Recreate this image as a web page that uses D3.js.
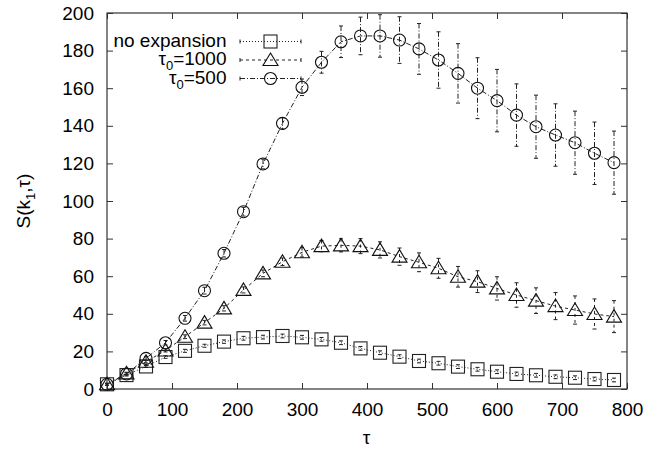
<!DOCTYPE html>
<html><head><meta charset="utf-8">
<script src="https://cdn.jsdelivr.net/npm/d3@7"></script>
<style>body{margin:0;background:#fff}svg{display:block}text{font-family:"Liberation Sans",Arial,sans-serif}</style>
</head><body><svg id="c" width="669" height="449"></svg>
<script>
const taus = [0,30,60,90,120,150,180,210,240,270,300,330,360,390,420,450,480,510,540,570,600,630,660,690,720,750,780];
const noExp = [2.5,7.4,12,17,20.3,23,25.2,27,27.6,28.2,27.5,26.4,24.6,21.6,19.3,17.2,14.9,13.7,11.9,10.5,9.2,8,7.3,6.5,6,5.3,4.8];
const noExpErr = [0.5,0.5,0.5,0.7,0.8,0.8,0.9,1,1,1,1,1,1,1,1,1,1,1,1,1,1,1,1,1,1,1,1];
const t1000 = [2.5,8.3,14.5,20.5,27.8,35.3,42.9,52.7,61.5,67.7,72.7,76,76.4,76,74,70.4,67.4,64.2,59.7,57.1,53.5,50,47,44.1,42,39.9,38.5];
const t1000Err = [0.5,0.6,0.7,0.8,1,1.2,1.4,1.6,1.8,2,2.5,3,3.5,4,4.3,4.6,5,5.3,5.5,5.8,6.2,6.5,6.8,7.2,7.5,8,8.5];
const t500 = [2.5,8,16.3,24.6,37.6,52.3,72.2,94.3,119.7,141.3,160.5,173.8,184.7,187.8,187.8,185.6,180.9,175,167.9,160,153.4,145.7,139.5,135.1,131,125.4,120.4];
const t500Err = [0.5,0.7,1,1.2,1.5,1.8,2,2.3,2.6,3,4.4,5.8,8.4,10,11.3,12.4,13.5,15,15.8,16.2,16.6,16.6,16.8,16.6,16.8,16.6,16.8];
const xTicks = [0,100,200,300,400,500,600,700,800];
const yTicks = [0,20,40,60,80,100,120,140,160,180,200];

const svg = d3.select("#c");
const L=107,R=627,T=13,B=389;
const x = d3.scaleLinear().domain([0,800]).range([L,R]);
const y = d3.scaleLinear().domain([0,200]).range([B,T]);
const FS = 19;
const axisCol = "#333";

function styleAxis(g, hide){
  g.select(".domain").remove();
  g.selectAll(".tick line").attr("stroke",axisCol);
  g.selectAll("text").attr("font-size",FS).attr("fill","#000").attr("font-family","Liberation Sans, Arial, sans-serif");
  if(hide) g.selectAll("text").remove();
}
svg.append("g").attr("transform",`translate(0,${B})`).call(d3.axisBottom(x).tickValues(xTicks).tickSizeInner(-6).tickSizeOuter(0).tickPadding(14)).call(g=>styleAxis(g,false));
svg.append("g").attr("transform",`translate(0,${T})`).call(d3.axisTop(x).tickValues(xTicks).tickSizeInner(-6).tickSizeOuter(0)).call(g=>styleAxis(g,true));
svg.append("g").attr("transform",`translate(${L},0)`).call(d3.axisLeft(y).tickValues(yTicks).tickSizeInner(-6).tickSizeOuter(0).tickPadding(13)).call(g=>styleAxis(g,false));
svg.append("g").attr("transform",`translate(${R},0)`).call(d3.axisRight(y).tickValues(yTicks).tickSizeInner(-6).tickSizeOuter(0)).call(g=>styleAxis(g,true));
svg.append("rect").attr("x",L).attr("y",T).attr("width",R-L).attr("height",B-T).attr("fill","none").attr("stroke",axisCol).attr("stroke-width",1.2);

// axis titles
svg.append("text").attr("x",(L+R)/2 - 0.5).attr("y",444).attr("text-anchor","middle").attr("font-size",FS).text("τ");
const yl = svg.append("text").attr("transform","translate(30,201) rotate(-90)").attr("text-anchor","middle").attr("font-size",FS);
yl.append("tspan").text("S(k");
yl.append("tspan").attr("font-size",13).attr("dy",5).text("1");
yl.append("tspan").attr("dy",-5).text(",τ)");

const series = [
  {name:"noexp", vals:noExp, err:noExpErr, dash:"1,2", marker:"square", lw:1},
  {name:"t1000", vals:t1000, err:t1000Err, dash:"3,3", marker:"triangle", lw:1},
  {name:"t500", vals:t500, err:t500Err, dash:"5,2,1,2", marker:"circle", lw:1}
];

function drawMarker(g, type, cx, cy){
  if(type==="square"){
    g.append("rect").attr("x",cx-6.5).attr("y",cy-6.5).attr("width",13).attr("height",13).attr("fill","none").attr("stroke","#222").attr("stroke-width",1.1);
  } else if(type==="triangle"){
    g.append("path").attr("d",`M${cx},${cy-7}L${cx+7.5},${cy+5.5}L${cx-7.5},${cy+5.5}Z`).attr("fill","none").attr("stroke","#111").attr("stroke-width",1.1);
  } else {
    g.append("circle").attr("cx",cx).attr("cy",cy).attr("r",6).attr("fill","none").attr("stroke","#111").attr("stroke-width",1.1);
  }
}

const line = d3.line().x((d,i)=>x(taus[i])).y(d=>y(d));
series.forEach(s=>{
  const g = svg.append("g");
  // error bars
  s.vals.forEach((v,i)=>{
    const cx = x(taus[i]), y1=y(v+s.err[i]), y0=y(v-s.err[i]);
    g.append("line").attr("x1",cx).attr("x2",cx).attr("y1",y1).attr("y2",y0).attr("stroke","#222").attr("stroke-width",1).attr("stroke-dasharray",s.dash);
    [y1,y0].forEach(yy=>g.append("line").attr("x1",cx-2).attr("x2",cx+2).attr("y1",yy).attr("y2",yy).attr("stroke","#222").attr("stroke-width",1));
  });
  g.append("path").attr("d",line(s.vals)).attr("fill","none").attr("stroke","#222").attr("stroke-width",s.lw).attr("stroke-dasharray",s.dash);
  s.vals.forEach((v,i)=>drawMarker(g,s.marker,x(taus[i]),y(v)));
});

// legend
const legRows = [41.5,60,78.5];
const lg = svg.append("g");
series.forEach((s,k)=>{
  const cy = legRows[k];
  lg.append("line").attr("x1",240).attr("x2",301).attr("y1",cy).attr("y2",cy).attr("stroke","#222").attr("stroke-dasharray",s.dash);
  [240,301].forEach(xx=>lg.append("line").attr("x1",xx).attr("x2",xx).attr("y1",cy-2).attr("y2",cy+2).attr("stroke","#222"));
  drawMarker(lg,s.marker,270.5,cy);
  const t = lg.append("text").attr("x",226.5).attr("y",cy+5).attr("text-anchor","end").attr("font-size",FS);
  if(k===0) t.text("no expansion");
  else {
    t.append("tspan").text("τ");
    t.append("tspan").attr("font-size",13).attr("dy",5).text("0");
    t.append("tspan").attr("dy",-5).text(k===1?"=1000":"=500");
  }
});
</script></body></html>
